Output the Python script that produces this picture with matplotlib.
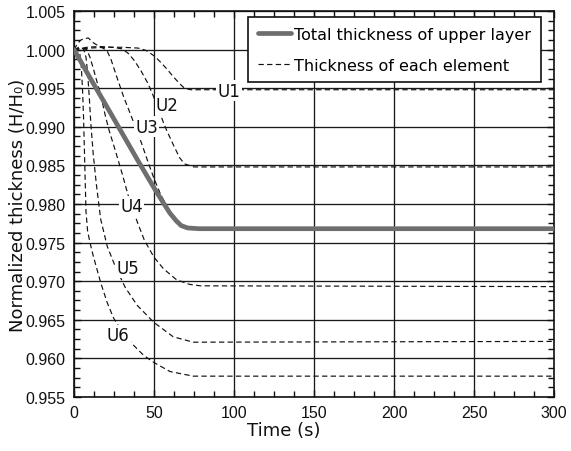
import matplotlib
matplotlib.use('Agg')
import matplotlib.pyplot as plt
from matplotlib.ticker import MultipleLocator, FormatStrFormatter

# ---- data ----
total_t = [0, 10, 20, 30, 40, 50, 56, 60, 64, 67, 71, 78, 150, 300]
total_h = [1.0, 0.99635, 0.9928, 0.9892, 0.9856, 0.9821, 0.9801, 0.9788, 0.9778,
           0.9772, 0.9769, 0.9768, 0.9768, 0.9768]

u1_t = [0, 10, 20, 30, 40, 45, 50, 54, 58, 62, 66, 69, 73, 300]
u1_h = [1.0, 1.0002, 1.0003, 1.0003, 1.0002, 0.9999, 0.9992, 0.9984, 0.9975,
        0.9965, 0.9956, 0.9950, 0.9948, 0.9948]

u2_t = [0, 8, 16, 24, 30, 34, 38, 42, 46, 49, 52, 56, 58, 62, 66, 69, 75, 300]
u2_h = [1.0, 1.0003, 1.0004, 1.0003, 1.0001, 0.9995, 0.9985, 0.9972, 0.9957,
        0.9943, 0.9927, 0.9905, 0.9895, 0.9877, 0.9860, 0.9852, 0.9848, 0.9848]

u3_t = [0, 2, 4, 6, 9, 12, 15, 18, 20.5, 23, 27, 31, 35, 38.5, 42, 46, 50, 54,
        58, 62, 66, 70, 76, 300]
u3_h = [1.0, 1.0007, 1.0012, 1.0014, 1.0015, 1.0009, 1.0005, 1.0002, 0.9999,
        0.9988, 0.9963, 0.9939, 0.9918, 0.9899, 0.9880, 0.9856, 0.9833, 0.9813,
        0.9797, 0.9783, 0.9774, 0.9770, 0.9768, 0.9768]

u4_t = [0, 4, 8, 10, 12, 14, 16.5, 19.5, 22, 26, 30, 34, 39.5, 44, 50, 56, 64,
        72, 79, 300]
u4_h = [1.0, 1.0002, 1.0, 0.9990, 0.9976, 0.9961, 0.9943, 0.9915, 0.9895,
        0.9868, 0.9840, 0.9810, 0.9777, 0.9753, 0.9731, 0.9716, 0.9702, 0.9696,
        0.9694, 0.9693]

u5_t = [0, 3, 6, 7.5, 8.5, 9.5, 10.5, 12, 14, 16.7, 20.8, 26, 32, 39.4, 49.7,
        62, 74.5, 300]
u5_h = [1.0, 1.0003, 1.0001, 0.9990, 0.9970, 0.9940, 0.9905, 0.9865, 0.9825,
        0.9780, 0.9745, 0.9718, 0.9692, 0.9669, 0.9647, 0.9628, 0.9621, 0.9622]

u6_t = [0, 2, 3.5, 4.5, 5.3, 6.0, 6.5, 7.0, 7.5, 8.5, 10, 11.5, 14, 16.7, 20.8,
        24.8, 30, 36.3, 43.5, 49.7, 60, 74.5, 300]
u6_h = [1.0, 1.0, 0.9997, 0.998, 0.995, 0.991, 0.987, 0.983, 0.979, 0.9765,
        0.9750, 0.9737, 0.9718, 0.9698, 0.9672, 0.9652, 0.9635, 0.9619, 0.9604,
        0.9595, 0.9583, 0.9577, 0.9577]

element_names = ['U1', 'U2', 'U3', 'U4', 'U5', 'U6']
label_t = [97, 58.3, 45.3, 36, 33.5, 27.6]
label_h = [0.9947, 0.99285, 0.9900, 0.9797, 0.9717, 0.9630]

legend_labels = ['Total thickness of upper layer', 'Thickness of each element']
x_ticks = [0, 50, 100, 150, 200, 250, 300]
y_ticks = [0.955, 0.960, 0.965, 0.970, 0.975, 0.980, 0.985, 0.990, 0.995, 1.000, 1.005]

# ---- figure ----
W, H = 571, 452
fig = plt.figure(figsize=(W / 100, H / 100), dpi=100)
ax = fig.add_axes([74 / W, 1 - 398 / H, 480 / W, 386 / H])

dash_kw = dict(color='#111111', lw=0.85, dashes=(4.5, 2.8), zorder=3)
elements = [(u1_t, u1_h), (u2_t, u2_h), (u3_t, u3_h),
            (u4_t, u4_h), (u5_t, u5_h), (u6_t, u6_h)]
h_elem = None
for t, h in elements:
    ln, = ax.plot(t, h, **dash_kw)
    if h_elem is None:
        h_elem = ln

h_total, = ax.plot(total_t, total_h, color='#6e6e6e', lw=3.4,
                   solid_capstyle='round', zorder=4)

for name, tx, hy in zip(element_names, label_t, label_h):
    ax.text(tx, hy, name, ha='center', va='center', fontsize=12,
            family='DejaVu Sans', color='#111111', zorder=6,
            bbox=dict(boxstyle='square,pad=0.08', fc='white', ec='none'))

ax.set_xlim(0, 300)
ax.set_ylim(0.955, 1.005)
ax.set_xticks(x_ticks)
ax.set_yticks(y_ticks)
ax.xaxis.set_minor_locator(MultipleLocator(12.5))
ax.yaxis.set_minor_locator(MultipleLocator(0.00125))
ax.yaxis.set_major_formatter(FormatStrFormatter('%.3f'))

ax.set_axisbelow(True)
ax.grid(True, which='major', color='#1a1a1a', lw=0.95)
ax.tick_params(which='both', direction='in', top=True, right=True,
               colors='#111111', width=1.0)
ax.tick_params(which='major', length=5, pad=6, labelsize=11.5,
               labelfontfamily='Liberation Sans')
ax.tick_params(which='minor', length=4)
for sp in ax.spines.values():
    sp.set_linewidth(1.2)
    sp.set_color('#111111')

ax.set_xlabel('Time (s)', fontsize=13, family='DejaVu Sans', color='#111111')
ax.set_ylabel('Normalized thickness (H/H\u2080)', fontsize=13,
              family='DejaVu Sans', color='#111111')
ax.xaxis.set_label_coords(0.436, -0.062)
ax.yaxis.set_label_coords(-0.097, 0.5)

leg = ax.legend([h_total, h_elem], legend_labels, loc='upper right',
                bbox_to_anchor=(0.973, 0.984), borderaxespad=0,
                frameon=True, fancybox=False, edgecolor='#111111',
                framealpha=1, prop={'family': 'DejaVu Sans', 'size': 11.5},
                handlelength=2.1, handletextpad=0.2, labelspacing=1.0,
                borderpad=0.6)
leg.get_frame().set_linewidth(1.2)
leg.set_zorder(10)

fig.savefig('out.png', dpi=100)
